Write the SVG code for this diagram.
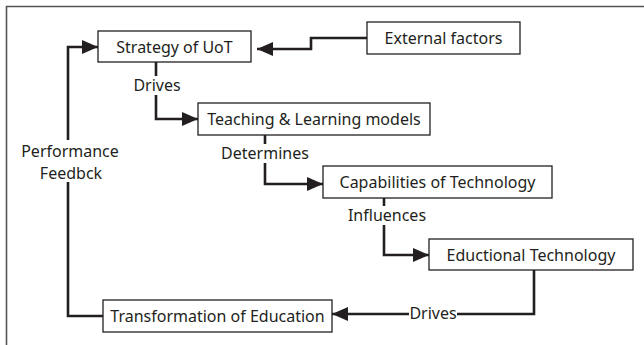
<svg xmlns="http://www.w3.org/2000/svg" width="644" height="345" viewBox="0 0 644 345">
<style>
.box{fill:#fff;stroke:#231f20;stroke-width:1.3}
.t{font-family:"Noto Sans","Open Sans","DejaVu Sans",sans-serif;font-size:16px;fill:#231f20;text-anchor:middle;dominant-baseline:central}
.c{fill:none;stroke:#231f20;stroke-width:2.6}
.lb{fill:#fff}
</style>
<defs>
<marker id="ah" markerUnits="userSpaceOnUse" markerWidth="17" markerHeight="14" refX="16" refY="7" orient="auto">
<path d="M0,0 L16,7 L0,14 Z" fill="#231f20"/>
</marker>
</defs>
<rect width="644" height="345" fill="#fff"/>
<path d="M6.5,345 V6.5 H644" fill="none" stroke="#555" stroke-width="1.6"/>
<g id="connectors">
<path class="c" d="M367,38 H311 V49 H257" marker-end="url(#ah)"/>
<path class="c" d="M156,62 V119 H198" marker-end="url(#ah)"/>
<path class="c" d="M265,135 V184 H323" marker-end="url(#ah)"/>
<path class="c" d="M384,198 V255 H429" marker-end="url(#ah)"/>
<path class="c" d="M534,270 V314 H332" marker-end="url(#ah)"/>
<path class="c" d="M103,316 H68 V47 H98" marker-end="url(#ah)"/>
<g id="labels">
<rect class="lb" x="132" y="76" width="50" height="19"/>
<text class="t" x="157" y="85">Drives</text>
<rect class="lb" x="219" y="144" width="92" height="19"/>
<text class="t" x="265" y="153">Determines</text>
<rect class="lb" x="346" y="206" width="82" height="19"/>
<text class="t" x="387" y="215">Influences</text>
<rect class="lb" x="409" y="305" width="48" height="18"/>
<text class="t" x="433" y="313">Drives</text>
<rect class="lb" x="18" y="140" width="104" height="42"/>
<text class="t" x="70" y="151">Performance</text>
<text class="t" x="71" y="173">Feedbck</text>
</g>
</g>
<g id="strategy"><rect class="box" x="98" y="31" width="153" height="31"/><text class="t" x="174.5" y="46.5">Strategy of UoT</text></g>
<g id="external"><rect class="box" x="367" y="22" width="153" height="32"/><text class="t" x="443.5" y="38">External factors</text></g>
<g id="teaching"><rect class="box" x="198" y="103" width="232" height="32"/><text class="t" x="314" y="119">Teaching &amp; Learning models</text></g>
<g id="capabilities"><rect class="box" x="323" y="166" width="229" height="32"/><text class="t" x="437.5" y="182">Capabilities of Technology</text></g>
<g id="eductional"><rect class="box" x="429" y="239" width="204" height="31"/><text class="t" x="531" y="254.5">Eductional Technology</text></g>
<g id="transformation"><rect class="box" x="103" y="300" width="229" height="32"/><text class="t" x="217.5" y="316">Transformation of Education</text></g>
</svg>
